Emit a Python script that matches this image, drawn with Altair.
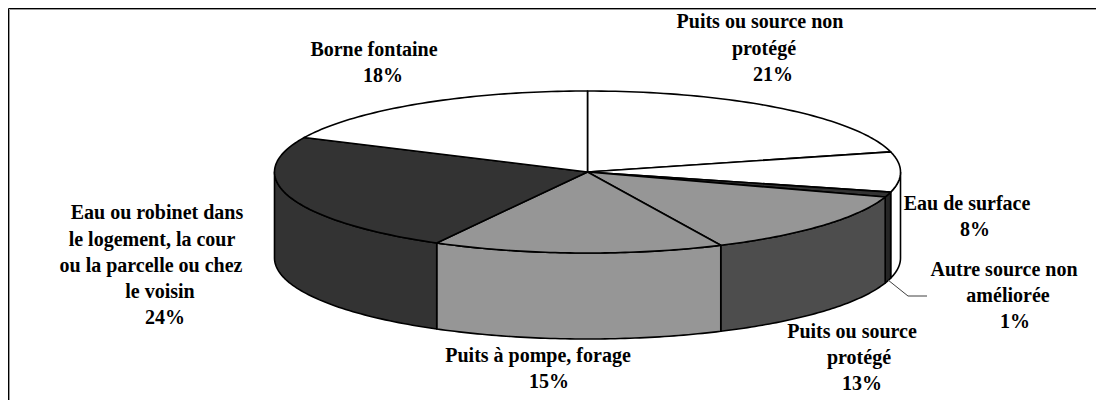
import numpy as np
import pandas as pd
import altair as alt

# Data
categories = ["Puits ou source non protégé", "Eau de surface", "Autre source non améliorée",
              "Puits ou source protégé", "Puits à pompe, forage",
              "Eau ou robinet dans le logement, la cour ou la parcelle ou chez le voisin",
              "Borne fontaine"]
percent = [21, 8, 1, 13, 15, 24, 18]

# Styles
top_colors = ["#ffffff", "#ffffff", "#333333", "#969696", "#969696", "#333333", "#ffffff"]
wall_colors = ["#ffffff", "#ffffff", "#262626", "#4d4d4d", "#969696", "#333333", "#ffffff"]

# Labels, line by line
label_lines = ["Puits ou source non", "protégé", "21%",
               "Eau de surface", "8%",
               "Autre source non", "améliorée", "1%",
               "Puits ou source", "protégé", "13%",
               "Puits à pompe, forage", "15%",
               "Eau ou robinet dans", "le logement, la cour", "ou la parcelle ou chez", "le voisin", "24%",
               "Borne fontaine", "18%"]
label_x = [760, 764, 773, 967, 975, 1004, 1008, 1015, 852, 859, 862, 538, 549, 157, 152, 151, 160, 165, 374, 383]
label_y = [22, 49, 75, 204, 230, 270, 296, 322, 332, 358, 384, 356, 382, 213, 240, 266, 292, 318, 50, 76]

# Geometry of the drawing
CX, CY, RX, RY, DEPTH = 587.5, 172.0, 313.0, 81.0, 86.0
X_DOM, Y_DOM = [8, 1096], [400, 8]


def ell(a, drop=0.0):
    return CX + RX * np.sin(a), CY - RY * np.cos(a) + drop


def poly_chart(xs, ys, fill, stroke="black", sw=1.6):
    df = pd.DataFrame({"x": xs, "y": ys, "i": range(len(xs))})
    return alt.Chart(df).mark_line(fill=fill, stroke=stroke, strokeWidth=sw, strokeJoin="round",
                                   clip=False).encode(
        x=alt.X("x:Q", scale=alt.Scale(domain=X_DOM, nice=False, zero=False), axis=None),
        y=alt.Y("y:Q", scale=alt.Scale(domain=Y_DOM, nice=False, zero=False), axis=None),
        order="i:Q")


edges = np.concatenate([[0], np.cumsum(percent)]) / 100 * 2 * np.pi
layers = []

# Side walls (visible half only)
for k in range(len(percent)):
    a0, a1 = max(edges[k], np.pi / 2), min(edges[k + 1], 3 * np.pi / 2)
    if a1 <= a0:
        continue
    t = np.linspace(a0, a1, 60)
    xt, yt = ell(t)
    xb, yb = ell(t[::-1], DEPTH)
    xs = np.concatenate([xt, xb, xt[:1]])
    ys = np.concatenate([yt, yb, yt[:1]])
    layers.append(poly_chart(xs, ys, wall_colors[k]))

# Top face
for k in range(len(percent)):
    t = np.linspace(edges[k], edges[k + 1], 60)
    xt, yt = ell(t)
    xs = np.concatenate([[CX], xt, [CX]])
    ys = np.concatenate([[CY], yt, [CY]])
    layers.append(poly_chart(xs, ys, top_colors[k]))

# Leader line of the 1% slice
layers.append(poly_chart([888, 908, 927], [280, 296, 296], "transparent", stroke="#404040", sw=1))

# Frame, open on the right and at the bottom
layers.append(poly_chart([9.5, 9.5, 1096], [400, 9.5, 9.5], "transparent", stroke="#999999", sw=1))
layers.append(poly_chart([8.5, 8.5, 1096], [400, 8.5, 8.5], "transparent", stroke="black", sw=1))

# Labels
labels = pd.DataFrame({"t": label_lines, "x": label_x, "y": label_y})
layers.append(alt.Chart(labels).mark_text(font="Liberation Serif", fontWeight="bold", fontSize=20,
                                          color="black", align="center", baseline="middle").encode(
    x=alt.X("x:Q", scale=alt.Scale(domain=X_DOM, nice=False, zero=False), axis=None),
    y=alt.Y("y:Q", scale=alt.Scale(domain=Y_DOM, nice=False, zero=False), axis=None),
    text="t:N"))

chart = alt.layer(*layers).properties(width=1088, height=392, padding=0, background="white",
                                      autosize=alt.AutoSizeParams(type="none")).configure_view(stroke=None)
chart.save("out.html", embed_options={"renderer": "svg", "actions": False})
